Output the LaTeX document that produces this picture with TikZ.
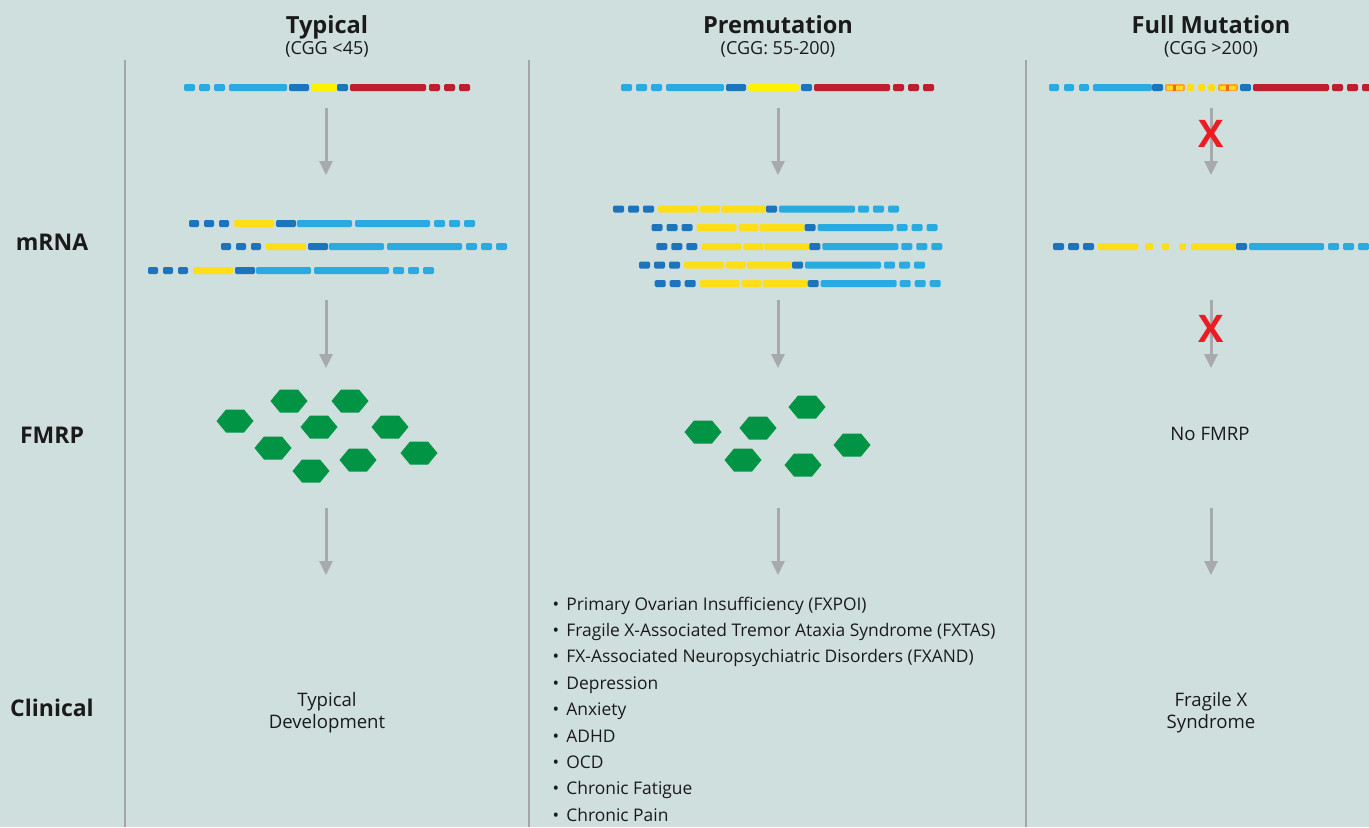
\documentclass[tikz,border=0pt]{standalone}
\usepackage{fontspec}
\setmainfont{Open Sans}
\usetikzlibrary{arrows.meta}
\definecolor{bgc}{HTML}{CFDFDD}
\definecolor{lb}{HTML}{29ABE2}
\definecolor{db}{HTML}{1C75BC}
\definecolor{yl}{HTML}{FFF200}
\definecolor{ym}{HTML}{FFDE17}
\definecolor{rd}{HTML}{BE1E2D}
\definecolor{orl}{HTML}{F9A23A}
\definecolor{ord}{HTML}{F26522}
\definecolor{hexg}{HTML}{009444}
\definecolor{arrgray}{HTML}{A7A9AC}
\definecolor{divgray}{HTML}{A3A5A7}
\definecolor{xred}{HTML}{ED1C24}
\definecolor{txtc}{HTML}{1A1A1A}
\begin{document}
\begin{tikzpicture}[x=0.5pt,y=-0.5pt,>={Triangle[length=7pt,width=6.5pt]},
	bar/.style={rounded corners=0.7pt},
	arr/.style={->,draw=arrgray,line width=1.5pt},
	hdr/.style={font=\fontsize{11.8}{14}\selectfont\bfseries,anchor=base,inner sep=0pt,text=txtc},
	subhdr/.style={font=\fontsize{9}{11}\selectfont,anchor=base,inner sep=0pt,text=txtc},
	rowlbl/.style={font=\fontsize{11.5}{13}\selectfont\bfseries,inner sep=0pt,text=txtc},
	txt/.style={font=\fontsize{9.3}{11}\selectfont,align=center,inner sep=0pt,text=txtc},
	blt/.style={font=\fontsize{8.7}{10}\selectfont,inner sep=0pt,text=txtc},
	nox/.style={font=\fontsize{19}{20}\selectfont\bfseries,text=xred,inner sep=0pt}]
	\fill[bgc] (0,0) rectangle (1369,827);
	\useasboundingbox (0,0) rectangle (1369,827);
	% column dividers
	\foreach \x in {125,529,1026}
		\draw[divgray,line width=1pt] (\x,60)--(\x,827);
	% headers
	\node[hdr] (h1) at (327,33) {Typical};
	\node[subhdr] (s1) at (327,54) {(CGG <45)};
	\node[hdr] (h2) at (778,33) {Premutation};
	\node[subhdr] (s2) at (778,54) {(CGG: 55-200)};
	\node[hdr] (h3) at (1211,33) {Full Mutation};
	\node[subhdr] (s3) at (1211,54) {(CGG >200)};
	\node[rowlbl] (mrna) at (52,242) {mRNA};
	\node[rowlbl] (fmrp) at (52,435) {FMRP};
	\node[rowlbl] (clin) at (52,708) {Clinical};
	% DNA
	\foreach \a/\b/\c in {184/195/lb,199/210/lb,214/225/lb,229/287/lb,289/309/db,311/337/yl,337/348/db,350/426/rd,429/440/rd,444/455/rd,459/470/rd,
		621/632/lb,636/647/lb,651/662/lb,666/724/lb,726/746/db,748/799/yl,801/812/db,814/890/rd,893/904/rd,908/919/rd,923/934/rd,
		1049/1059/lb,1064/1074/lb,1079/1089/lb,1093/1152/lb,1152/1163/db,1187/1194/ym,1198/1205/ym,1208/1215/ym,1240/1251/db,1253/1329/rd,1332/1343/rd,1347/1358/rd,1362/1373/rd}
		\fill[\c,bar] (\a,84) rectangle (\b,91);
	\foreach \a in {1165,1218}{
		\fill[orl,bar] (\a,84) rectangle (\a+20,91);
		\fill[ym] (\a+2,85.5) rectangle (\a+8,89.5);
		\fill[ym] (\a+11,85.5) rectangle (\a+18,89.5);
		\fill[ord] (\a+8,84.5) rectangle (\a+11,90.5);}
	% mRNA
	\foreach \o/\y in {0/223.5,32/246.5,-41/270.5}
		\foreach \a/\b/\c in {189/199/db,204/214/db,219/229/db,234/274/ym,276/296/db,297/352/lb,355/430/lb,434/445/lb,449/460/lb,464/475/lb}
			\fill[\c,bar] ({\a+\o},\y-3.5) rectangle ({\b+\o},\y+3.5);
	\foreach \o/\y in {0/209,38.5/227.5,43.3/246.5,26/265,41.7/283.5}
		\foreach \a/\b/\c in {613/624/db,628/639/db,643/654/db,658/698/ym,700/720/ym,721/766/ym,766/777/db,779/855/lb,858/869/lb,873/884/lb,888/899/lb}
			\fill[\c,bar] ({\a+\o},\y-3.5) rectangle ({\b+\o},\y+3.5);
	\foreach \a/\b/\c in {1053/1064/db,1068/1079/db,1083/1094/db,1098/1138/ym,1145/1153/ym,1162/1169/ym,1179/1186/ym,1191/1236/ym,1236/1247/db,1249/1324/lb,1328/1339/lb,1343/1354/lb,1358/1369/lb}
		\fill[\c,bar] (\a,243) rectangle (\b,250);
	% FMRP
	\foreach \x/\y in {235/421,289/401,350/401,319/427,390/427,273/448,419/453,358/460,311/471,
		703/432,758/428,807/407,852/445,743/460,803/465}
		\fill[hexg] (\x,\y) +(-18.5,0) -- +(-9,-11.5) -- +(9,-11.5) -- +(18.5,0) -- +(9,11.5) -- +(-9,11.5) -- cycle;
	% arrows
	\foreach \c/\x in {a/326,b/778,c/1211}
		\foreach \k/\s/\e in {1/108/175,2/300/368,3/508/575}{
			\coordinate (\c\k s) at (\x,\s);
			\coordinate (\c\k e) at (\x,\e);
			\draw[arr] (\c\k s)--(\c\k e);}
	\node[nox] (x1) at (1211,134) {X};
	\node[nox] (x2) at (1211,329) {X};
	\node[txt] (nof) at (1210,434) {No FMRP};
	% clinical
	\node[txt] (cl1) at (327,713) {Typical\\Development};
	\node[txt] (cl3) at (1211,713) {Fragile X\\Syndrome};
	\foreach \t [count=\i from 0] in {Primary Ovarian Insufficiency (FXPOI),Fragile X-Associated Tremor Ataxia Syndrome (FXTAS),
		FX-Associated Neuropsychiatric Disorders (FXAND),Depression,Anxiety,ADHD,OCD,Chronic Fatigue,Chronic Pain}{
		\node[blt,anchor=base] (d\i) at (556,{610+26.4*\i}) {•};
		\node[blt,anchor=base west] (l\i) at (566,{610+26.4*\i}) {\t};}
\end{tikzpicture}
\end{document}
